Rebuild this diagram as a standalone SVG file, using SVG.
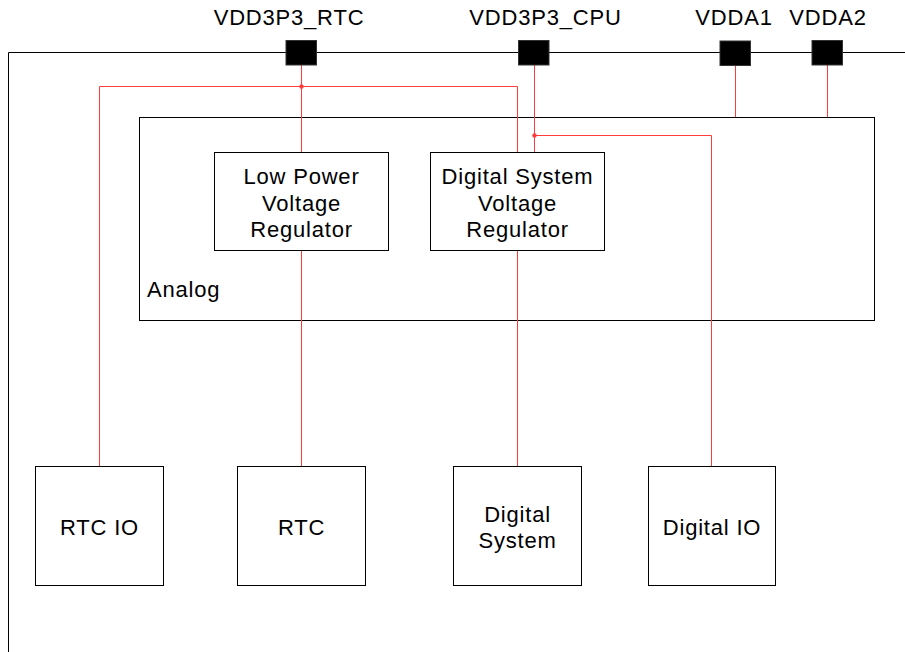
<svg xmlns="http://www.w3.org/2000/svg" width="905" height="652" viewBox="0 0 905 652">
<style>
.box{fill:#fff;stroke:#000;stroke-width:1}
.pad{fill:#000;stroke:#333;stroke-width:1}
.frame{fill:none;stroke:#000;stroke-width:1}
.wire{fill:none;stroke:#ff3b3b;stroke-width:1}
.dot{fill:#ff3b3b}
text{font-family:"Liberation Sans",Arial,sans-serif;font-size:22px;fill:#000;letter-spacing:0.8px}
.c{text-anchor:middle}
</style>
<rect width="905" height="652" fill="#fff"/>
<g id="chip-boundary">
<path class="frame" d="M8.5,652 V52.5 H905"/>
</g>
<g id="analog">
<rect class="box" x="139.5" y="117.5" width="735" height="203"/>
<text x="147" y="297">Analog</text>
</g>
<g id="connectors">
<path class="wire" d="M301.5,65 V152"/>
<path class="wire" d="M99.5,466 V86.5 H517.5 V152"/>
<path class="wire" d="M534.5,65 V152"/>
<path class="wire" d="M534.5,135.5 H711.5 V466"/>
<path class="wire" d="M735.5,65 V117"/>
<path class="wire" d="M827.5,65 V117"/>
<path class="wire" d="M301.5,251 V466"/>
<path class="wire" d="M517.5,251 V466"/>
<circle class="dot" cx="301.5" cy="86.5" r="2.2"/>
<circle class="dot" cx="534.5" cy="135.5" r="2.2"/>
</g>
<g id="pad-vdd3p3-rtc">
<rect class="pad" x="286" y="40.5" width="30.5" height="24.5"/>
<text class="c" x="289" y="25">VDD3P3_RTC</text>
</g>
<g id="pad-vdd3p3-cpu">
<rect class="pad" x="518.5" y="40.5" width="30.5" height="24.5"/>
<text class="c" x="545.5" y="25">VDD3P3_CPU</text>
</g>
<g id="pad-vdda1">
<rect class="pad" x="720" y="41" width="30.5" height="24.5"/>
<text class="c" x="734" y="25">VDDA1</text>
</g>
<g id="pad-vdda2">
<rect class="pad" x="812" y="40.5" width="30.5" height="24.5"/>
<text class="c" x="828" y="25">VDDA2</text>
</g>
<g id="lp-regulator">
<rect class="box" x="214.5" y="152.5" width="174" height="98"/>
<text class="c" x="301.5" y="184">Low Power</text>
<text class="c" x="301.5" y="210.5">Voltage</text>
<text class="c" x="301.5" y="236.5">Regulator</text>
</g>
<g id="ds-regulator">
<rect class="box" x="430.5" y="152.5" width="174" height="98"/>
<text class="c" x="517.5" y="184">Digital System</text>
<text class="c" x="517.5" y="210.5">Voltage</text>
<text class="c" x="517.5" y="236.5">Regulator</text>
</g>
<g id="rtc-io">
<rect class="box" x="35.5" y="466.5" width="128" height="119"/>
<text class="c" x="99.5" y="535">RTC IO</text>
</g>
<g id="rtc">
<rect class="box" x="237.5" y="466.5" width="128" height="119"/>
<text class="c" x="301.5" y="535">RTC</text>
</g>
<g id="digital-system">
<rect class="box" x="453.5" y="466.5" width="128" height="119"/>
<text class="c" x="517.5" y="521.5">Digital</text>
<text class="c" x="517.5" y="547.5">System</text>
</g>
<g id="digital-io">
<rect class="box" x="648.5" y="466.5" width="127" height="119"/>
<text class="c" x="712" y="534.5">Digital IO</text>
</g>
</svg>
